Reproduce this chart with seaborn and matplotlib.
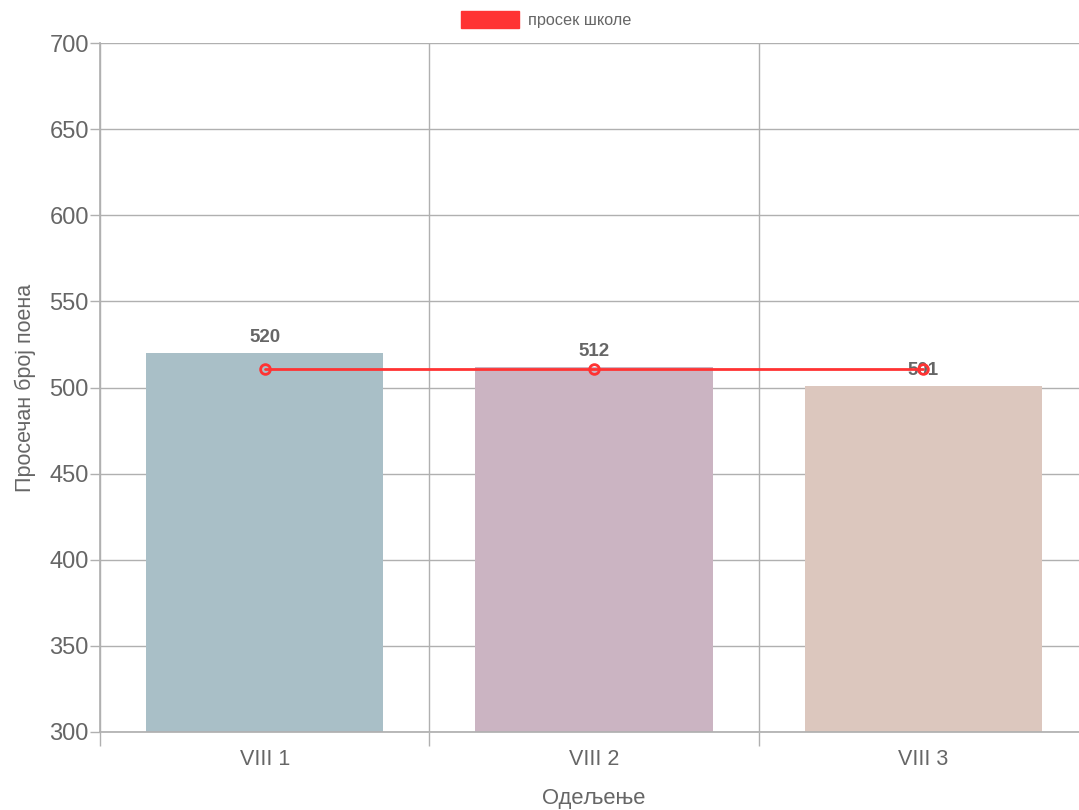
import matplotlib
matplotlib.use('Agg')
import matplotlib.pyplot as plt
import seaborn as sns
import pandas as pd
from matplotlib.patches import Patch

# Подаци
odeljenja = ['VIII 1', 'VIII 2', 'VIII 3']
prosek_odeljenja = [520, 512, 501]
prosek_skole = [511, 511, 511]
boje = ['#A9BFC7', '#CBB4C2', '#DCC7BE']
y_ticks = [300, 350, 400, 450, 500, 550, 600, 650, 700]

df = pd.DataFrame({'odeljenje': odeljenja, 'prosek': prosek_odeljenja})

sns.set_theme(style='white')
plt.rcParams['font.family'] = ['Liberation Sans', 'DejaVu Sans']

siva = '#666666'
linija = '#B0B0B0'

fig = plt.figure(figsize=(10.79, 8.10), dpi=100)
# десна ивица осе излази ван слике, као у оригиналу
ax = fig.add_axes([0.0927, 0.0963, 0.9157, 0.8506])

sns.barplot(data=df, x='odeljenje', y='prosek', hue='odeljenje', palette=boje,
            saturation=1, linewidth=0, width=0.72, legend=False, ax=ax, zorder=2)

for c in ax.containers:
    ax.bar_label(c, padding=5, fontsize=13.5, fontweight='bold', color=siva)

# линија просека школе
ax.plot(range(len(odeljenja)), prosek_skole, color='#FF3333', lw=2, marker='o',
        markersize=7, markerfacecolor='none', markeredgewidth=2, zorder=4)

ax.set_ylim(300, 700)
ax.set_xlim(-0.5, len(odeljenja) - 0.5)
ax.set_yticks(y_ticks)
ax.set_xticks(range(len(odeljenja)))
ax.set_xticks([i - 0.5 for i in range(len(odeljenja) + 1)], minor=True)

ax.grid(True, axis='y', which='major', color=linija, lw=1, zorder=0)
ax.grid(True, axis='x', which='minor', color=linija, lw=1, zorder=0)
ax.grid(False, axis='x', which='major')

ax.tick_params(axis='y', which='major', length=7, width=1, color=linija,
               labelsize=17, labelcolor=siva, pad=1, left=True)
ax.tick_params(axis='x', which='major', length=0, labelsize=15.5, labelcolor=siva, pad=12)
ax.tick_params(axis='x', which='minor', length=10, width=1, color=linija, bottom=True)

for s in ['top', 'right']:
    ax.spines[s].set_visible(False)
for s in ['left', 'bottom']:
    ax.spines[s].set_color(linija)

ax.set_xlabel('Одељење', fontsize=15.8, color=siva, labelpad=13)
ax.set_ylabel('Просечан број поена', fontsize=15.5, color=siva, labelpad=10)

fig.legend(handles=[Patch(facecolor='#FF3333', edgecolor='#FF3333')], labels=['просек школе'],
           loc='upper center', bbox_to_anchor=(0.506, 1.005), frameon=False, fontsize=11.7,
           labelcolor=siva, handlelength=3.6, handleheight=1.3, handletextpad=0.5)

fig.savefig('out.png', dpi=100)
